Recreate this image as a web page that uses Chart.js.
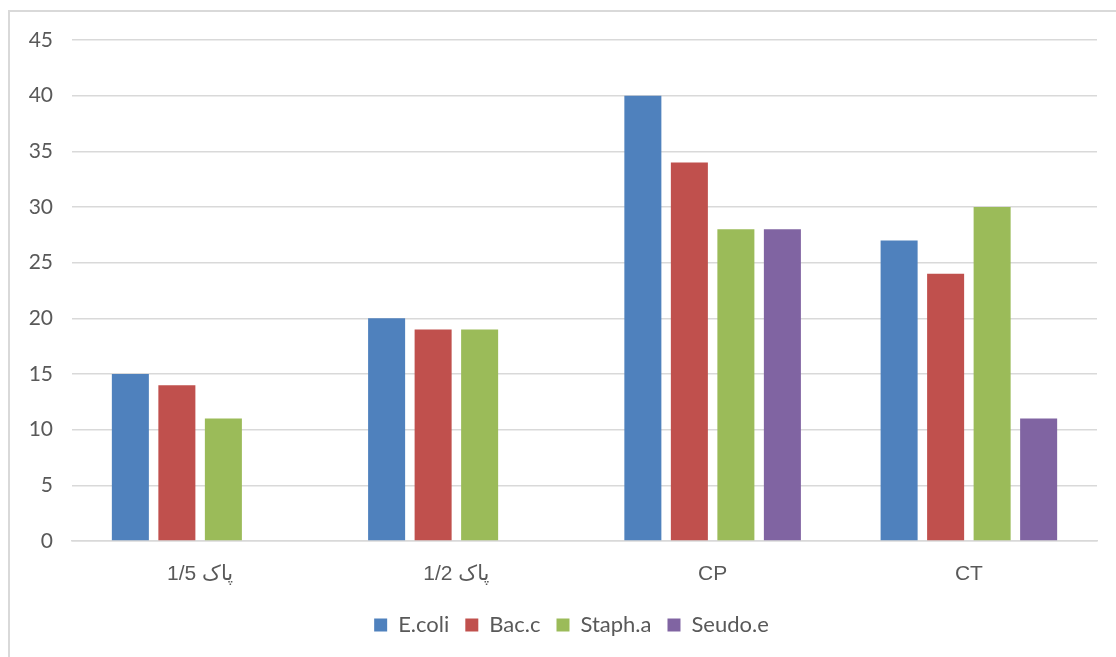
<!DOCTYPE html>
<html>
<head>
<meta charset="utf-8">
<script src="https://cdn.jsdelivr.net/npm/chart.js@4.4.0/dist/chart.umd.min.js"></script>
<style>
  html, body { margin: 0; padding: 0; background: #fff; }
  #wrap { position: relative; width: 1116px; height: 657px; overflow: hidden; }
  #frame { position: absolute; left: 8px; top: 10px; width: 1200px; height: 700px; border-left: 2px solid #d9d9d9; border-top: 2px solid #d9d9d9; box-sizing: border-box; }
  canvas { position: absolute; left: 0; top: 0; }
</style>
</head>
<body>
<div id="wrap">
  <div id="frame"></div>
  <canvas id="c" width="1116" height="657"></canvas>
</div>
<script>
const categories = ["1/5 پاک", "1/2 پاک", "CP", "CT"];
const seriesNames = ["E.coli", "Bac.c", "Staph.a", "Seudo.e"];
const ecoli = [15, 20, 40, 27];
const bacc = [14, 19, 34, 24];
const stapha = [11, 19, 28, 30];
const seudoe = [null, null, 28, 11];
const yTicks = [0, 5, 10, 15, 20, 25, 30, 35, 40, 45];

const colors = ["#4F81BD", "#C0504D", "#9BBB59", "#8064A2"];
const values = [ecoli, bacc, stapha, seudoe];

const datasets = seriesNames.map((name, i) => ({
  label: name,
  data: values[i],
  backgroundColor: colors[i],
  borderWidth: 0,
  categoryPercentage: 0.726,
  barPercentage: 0.796
}));

// Shift legend so it is centred under the plot like the original
const legendShift = {
  id: 'legendShift',
  beforeDraw(chart) {
    const lg = chart.legend;
    if (lg && !lg._shifted) {
      lg.left += 23; lg.right += 23; lg._shifted = true;
    }
  }
};

new Chart(document.getElementById('c'), {
  type: 'bar',
  data: { labels: categories, datasets },
  plugins: [legendShift],
  options: {
    responsive: false,
    animation: false,
    layout: { padding: { left: 0, right: 19, top: 40, bottom: 11 } },
    plugins: {
      tooltip: { enabled: false },
      legend: {
        position: 'bottom',
        labels: {
          font: { family: 'Lato', size: 22 },
          color: '#595959',
          boxWidth: 13,
          boxHeight: 13,
          padding: 16
        }
      }
    },
    scales: {
      y: {
        min: 0, max: 45,
        afterBuildTicks: (s) => { s.ticks = yTicks.map(v => ({ value: v })); },
        afterFit: (s) => { s.width = 72; },
        grid: { color: '#d9d9d9', lineWidth: 1.5, drawTicks: false },
        border: { display: false },
        ticks: {
          font: { family: 'Lato', size: 21 },
          color: '#595959',
          padding: 19
        }
      },
      x: {
        afterFit: (s) => { s.height = 57; },
        grid: { display: false, drawTicks: false },
        border: { display: true, color: '#d9d9d9', width: 1.5 },
        ticks: {
          font: { family: '"Liberation Sans", "DejaVu Sans", sans-serif', size: 21 },
          color: '#595959',
          padding: 21
        }
      }
    }
  }
});
</script>
</body>
</html>
